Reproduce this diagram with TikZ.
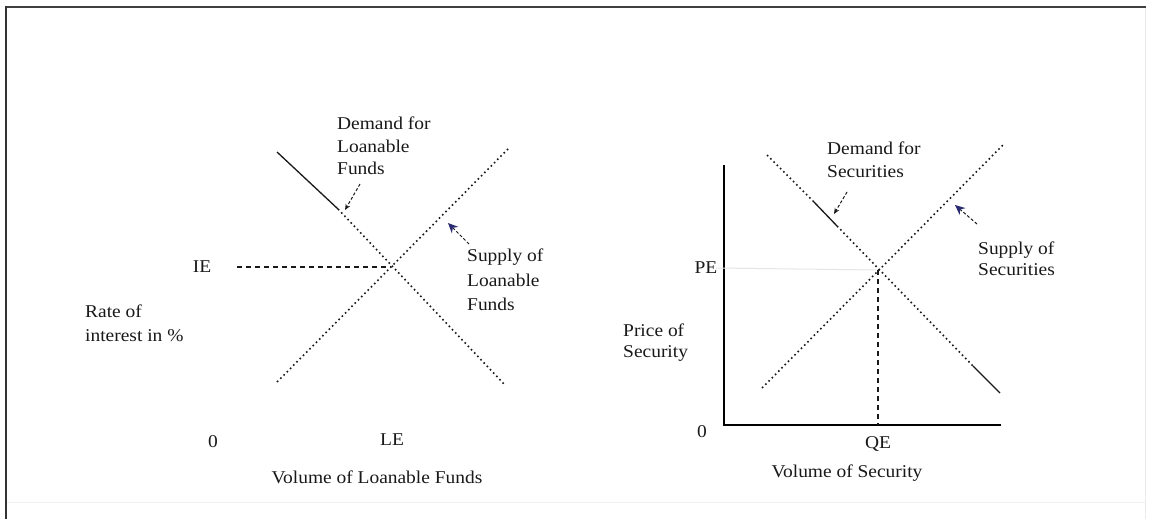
\documentclass[tikz,border=0pt]{standalone}
\usepackage{fontspec}
\setmainfont[FakeStretch=1.08]{Liberation Serif}
\usetikzlibrary{arrows.meta}
\definecolor{navyc}{HTML}{2B2B72}
\tikzset{
  lbl/.style={inner sep=0pt, font=\fontsize{18}{22.5}\selectfont, text=black!90},
  dotline/.style={line width=1.6pt, dash pattern=on 1.6pt off 3pt, black!90},
  solidline/.style={line width=1.3pt, black!90},
  axisline/.style={line width=1.7pt, black},
  eqdash/.style={line width=1.2pt, dash pattern=on 5pt off 4pt, black!90},
  ptr/.style={line width=1pt, dash pattern=on 3pt off 2pt, black!90, -{Stealth[length=6pt,width=5pt]}},
  supptr/.style={line width=1pt, dash pattern=on 3pt off 2pt, black!90, -{Stealth[length=10pt,width=9pt,color=navyc]}}
}
\begin{document}
\begin{tikzpicture}[x=1pt,y=-1pt]
\useasboundingbox (0,0) rectangle (1150,519);
\fill[white] (0,0) rectangle (1150,519);
% frame
\draw[line width=2pt, black!75] (5,7) -- (1146,7);
\draw[line width=2pt, black!80] (6,6) -- (6,519);
\draw[line width=0.8pt, black!8] (1145,8) -- (1145,519);
\draw[line width=0.8pt, black!6] (7,502) -- (1145,502);

% ---------- left graph ----------
\coordinate (LDa) at (277,152);
\coordinate (LDb) at (338,209);
\coordinate (LDc) at (505,385);
\coordinate (LSa) at (277,382);
\coordinate (LSb) at (510,147);
\coordinate (LE) at (391,267);
\coordinate (LIEs) at (237,267);

\draw[solidline] (LDa) -- (LDb);
\draw[dotline] (LDb) -- (LDc);
\draw[dotline] (LSa) -- (LSb);
\draw[eqdash] (LIEs) -- (LE);

\node[lbl, anchor=north west, align=left] (ldlab) at (337,117) {Demand for\\Loanable\\Funds};
\coordinate (ldt) at (360,184);
\coordinate (ldh) at (345,210);
\draw[ptr] (ldt) -- (ldh);

\node[lbl, anchor=north west, align=left, font=\fontsize{18}{24.5}\selectfont] (lslab) at (467,249) {Supply of\\Loanable\\Funds};
\coordinate (lst) at (469,244);
\coordinate (lsh) at (448,223);
\draw[supptr] (lst) -- (lsh);

\node[lbl] (ie) at (202,267) {IE};
\node[lbl, anchor=north west, align=left, font=\fontsize{18}{24}\selectfont] (rate) at (85,305) {Rate of\\interest in \%};
\node[lbl] (lzero) at (213,442) {0};
\node[lbl] (lqe) at (392,440) {LE};
\node[lbl] (lvol) at (377,477) {Volume of Loanable Funds};

% ---------- right graph ----------
\coordinate (O) at (724,425);
\coordinate (Ytop) at (724,165);
\coordinate (Xend) at (1001,425);
\draw[axisline] (Ytop) -- (O) -- (Xend);

\coordinate (RDa) at (767,155);
\coordinate (RDb) at (813,201);
\coordinate (RDc) at (837,226);
\coordinate (RDd) at (973,366);
\coordinate (RDe) at (1000,393);
\coordinate (RSa) at (762,388);
\coordinate (RSb) at (1003,145);
\coordinate (RE) at (878,270);
\coordinate (RQ) at (878,425);
\coordinate (RPs) at (716,268);

\draw[line width=1pt, black!10] (RPs) -- (RE);
\draw[dotline] (RDa) -- (RDb);
\draw[solidline] (RDb) -- (RDc);
\draw[dotline] (RDc) -- (RDd);
\draw[solidline] (RDd) -- (RDe);
\draw[dotline] (RSa) -- (RSb);
\draw[eqdash] (RE) -- (RQ);

\node[lbl, anchor=north west, align=left] (rdlab) at (827,142) {Demand for\\Securities};
\coordinate (rdt) at (847,192);
\coordinate (rdh) at (834,214);
\draw[ptr] (rdt) -- (rdh);

\node[lbl, anchor=north west, align=left, font=\fontsize{18}{21}\selectfont] (rslab) at (978,242) {Supply of\\Securities};
\coordinate (rst) at (977,224);
\coordinate (rsh) at (955,205);
\draw[supptr] (rst) -- (rsh);

\node[lbl] (pe) at (706,268) {PE};
\node[lbl, anchor=north west, align=left, font=\fontsize{18}{21}\selectfont] (price) at (623,324) {Price of\\Security};
\node[lbl] (rzero) at (702,432) {0};
\node[lbl] (rqe) at (878,444) {QE};
\node[lbl] (rvol) at (847,473) {Volume of Security};
\end{tikzpicture}
\end{document}
